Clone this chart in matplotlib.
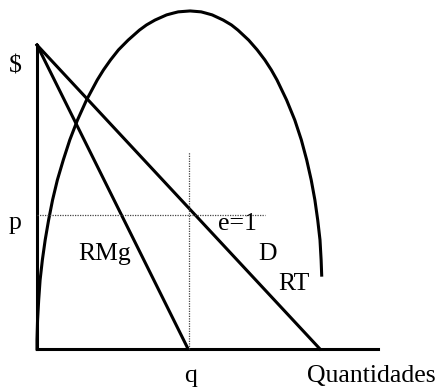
import matplotlib
matplotlib.use('Agg')
from matplotlib import pyplot as plt

# values (x = quantity, y = $)
d_x = [0, 10.0]            # demand D
d_y = [10.0, 0]
rmg_x = [0, 5.34]          # marginal revenue RMg
rmg_y = [10.0, 0]
q_star = 5.37
p_star = 4.41
q_guide_top = 6.48
p_guide_end = 8.06
x_axis_end = 12.05
y_axis_top = 10.0

# total revenue RT
rt_x = [0, 0.00, 0.02, 0.06, 0.11, 0.19, 0.29, 0.41, 0.55, 0.72, 0.93, 1.16,
        1.43, 1.75, 2.13, 2.35, 2.60, 2.88, 3.22, 3.62, 3.87, 4.17, 4.58,
        4.82, 4.99, 5.41, 5.80, 5.96, 6.19, 6.58, 6.87, 7.10, 7.48, 7.78,
        8.05, 8.28, 8.48, 8.82, 9.11, 9.34, 9.53, 9.69, 9.82, 9.92, 10.00,
        10.04, 10.06]
rt_y = [0, 0.30, 0.95, 1.61, 2.27, 2.93, 3.59, 4.24, 4.90, 5.56, 6.22, 6.88,
        7.53, 8.19, 8.85, 9.18, 9.51, 9.84, 10.16, 10.49, 10.66, 10.82, 10.99,
        11.05, 11.09, 11.12, 11.09, 11.05, 10.99, 10.82, 10.66, 10.49, 10.16,
        9.84, 9.51, 9.18, 8.85, 8.19, 7.53, 6.88, 6.22, 5.56, 4.90, 4.24,
        3.59, 2.93, 2.43]

plt.rcParams['font.family'] = ['Liberation Serif', 'DejaVu Serif']

fig = plt.figure(figsize=(4.41, 3.92), dpi=100)
ax = fig.add_axes([0, 0, 1, 1])
ax.set_xlim(-1.307, 14.276)
ax.set_ylim(-1.414, 11.48)
ax.axis('off')

lw = 2.2
ax.plot([0, 0], [0, y_axis_top], color='black', lw=lw, solid_capstyle='projecting')
ax.plot([0, x_axis_end], [0, 0], color='black', lw=lw, solid_capstyle='projecting')
ax.plot(d_x, d_y, color='black', lw=lw)
ax.plot(rmg_x, rmg_y, color='black', lw=lw)
ax.plot(rt_x, rt_y, color='black', lw=lw, solid_joinstyle='round')

# dotted guides at p and q
ax.plot([q_star, q_star], [0, q_guide_top], color='#444444', lw=0.9, ls=(0, (1, 1)))
ax.plot([0, p_guide_end], [p_star, p_star], color='#444444', lw=0.9, ls=(0, (1, 1)))

fs = 18.5
ax.text(-0.76, 9.28, '$', fontsize=fs, ha='center', va='center')
ax.text(-0.78, 3.95, 'p', fontsize=fs, ha='center', va='baseline')
ax.text(1.45, 2.93, 'RMg', fontsize=fs, ha='left', va='baseline')
ax.text(6.40, 3.91, 'e=1', fontsize=fs, ha='left', va='baseline')
ax.text(7.81, 2.93, 'D', fontsize=fs, ha='left', va='baseline')
ax.text(8.52, 1.94, 'RT', fontsize=fs, ha='left', va='baseline')
ax.text(5.44, -1.09, 'q', fontsize=fs, ha='center', va='baseline')
ax.text(9.54, -1.09, 'Quantidades', fontsize=fs, ha='left', va='baseline')

plt.savefig('out.png', dpi=100)
